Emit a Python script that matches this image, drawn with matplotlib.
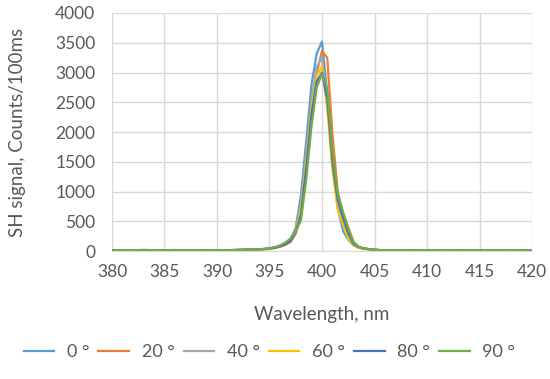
import numpy as np
import matplotlib.pyplot as plt

plt.rcParams['font.family'] = ['Lato', 'DejaVu Sans']

# Wavelength grid (nm): coarse in the wings, 0.5 nm around the SH peak
wavelength = [380, 381, 382, 383, 384, 385, 386, 387, 388, 389, 390, 391, 392, 393, 394,
              394.5, 395, 395.5, 396, 396.5, 397, 397.5, 398, 398.5, 399, 399.5, 400,
              400.5, 401, 401.5, 402, 402.5, 403, 403.5, 404, 404.5, 405, 405.5, 406,
              407, 408, 409, 410, 411, 412, 413, 414, 415, 416, 417, 418, 419, 420]

angle_labels = ["0 °", "20 °", "40 °", "60 °", "80 °", "90 °"]
colors = ["#5B9BD5", "#ED7D31", "#A5A5A5", "#FFC000", "#4472C4", "#70AD47"]

sig_0 = [10, 15, 8, 20, 12, 10, 18, 9, 14, 11, 16, 12, 20, 25, 30,
         35, 45, 60, 85, 120, 200, 390, 950, 1850, 2800, 3320, 3520,
         2650, 1450, 720, 340, 190, 95, 60, 40, 30, 22, 15, 12,
         10, 14, 9, 12, 10, 15, 8, 12, 10, 14, 9, 12, 10, 12]
sig_20 = [12, 8, 16, 10, 14, 9, 12, 15, 10, 13, 9, 14, 18, 22, 25,
          30, 35, 50, 70, 100, 150, 290, 650, 1400, 2300, 3000, 3360,
          3250, 1950, 1000, 640, 400, 150, 70, 45, 30, 22, 15, 12,
          14, 9, 12, 10, 14, 10, 12, 9, 13, 10, 12, 14, 9, 11]
sig_40 = [9, 12, 10, 14, 8, 13, 10, 12, 15, 9, 12, 10, 16, 20, 26,
          32, 40, 55, 80, 115, 180, 350, 820, 1650, 2550, 3100, 3250,
          2500, 1450, 790, 450, 250, 110, 60, 40, 28, 20, 14, 12,
          12, 10, 14, 9, 12, 11, 13, 10, 12, 9, 13, 10, 12, 10]
sig_60 = [14, 10, 12, 9, 15, 11, 9, 13, 10, 14, 11, 13, 17, 21, 27,
          33, 42, 58, 82, 118, 185, 330, 720, 1500, 2400, 2950, 3100,
          2400, 1350, 700, 440, 210, 95, 55, 38, 28, 20, 15, 12,
          9, 13, 10, 14, 9, 12, 10, 14, 9, 12, 10, 13, 11, 10]
sig_80 = [11, 13, 9, 12, 10, 14, 12, 10, 13, 12, 10, 15, 18, 23, 28,
          34, 42, 56, 78, 112, 175, 320, 620, 1400, 2300, 2850, 3000,
          2550, 1500, 850, 560, 300, 120, 65, 42, 30, 21, 15, 12,
          11, 12, 13, 10, 12, 9, 14, 11, 10, 12, 11, 10, 13, 12]
sig_90 = [10, 11, 13, 10, 12, 11, 14, 10, 12, 10, 13, 11, 17, 22, 28,
          36, 48, 65, 95, 140, 210, 330, 520, 1200, 2100, 2750, 2980,
          2720, 1650, 950, 660, 380, 150, 70, 45, 30, 22, 16, 12,
          12, 11, 10, 13, 11, 12, 10, 11, 12, 10, 12, 11, 10, 12]

series = [sig_0, sig_20, sig_40, sig_60, sig_80, sig_90]

fig = plt.figure(figsize=(5.5, 3.79), dpi=100)
ax = fig.add_axes([0.2036, 0.3377, 0.7637, 0.628])

for values, label, color in zip(series, angle_labels, colors):
    ax.plot(wavelength, values, color=color, linewidth=1.6, label=label)

ax.set_xlim(380, 420)
ax.set_ylim(0, 4000)
ax.set_xticks(np.arange(380, 421, 5))
ax.set_yticks(np.arange(0, 4001, 500))
ax.grid(True, color="#d9d9d9", linewidth=1.0)
ax.set_axisbelow(True)
for side in ["top", "right", "left"]:
    ax.spines[side].set_visible(False)
ax.spines["bottom"].set_color("#d9d9d9")
ax.tick_params(length=0, labelsize=12.5, colors="#595959")
ax.tick_params(axis="y", pad=12)
ax.tick_params(axis="x", pad=9)

ax.set_xlabel("Wavelength, nm", fontsize=13.5, color="#595959")
ax.set_ylabel("SH signal, Counts/100ms", fontsize=13.5, color="#595959")
ax.xaxis.set_label_coords(0.5, -0.23)
ax.yaxis.set_label_coords(-0.205, 0.5)

fig.legend(loc="center", bbox_to_anchor=(0.49, 0.071), ncol=6, frameon=False,
           fontsize=13, handlelength=1.7, columnspacing=0.5, handletextpad=0.7,
           labelcolor="#595959")

plt.savefig("out.png", dpi=100)
